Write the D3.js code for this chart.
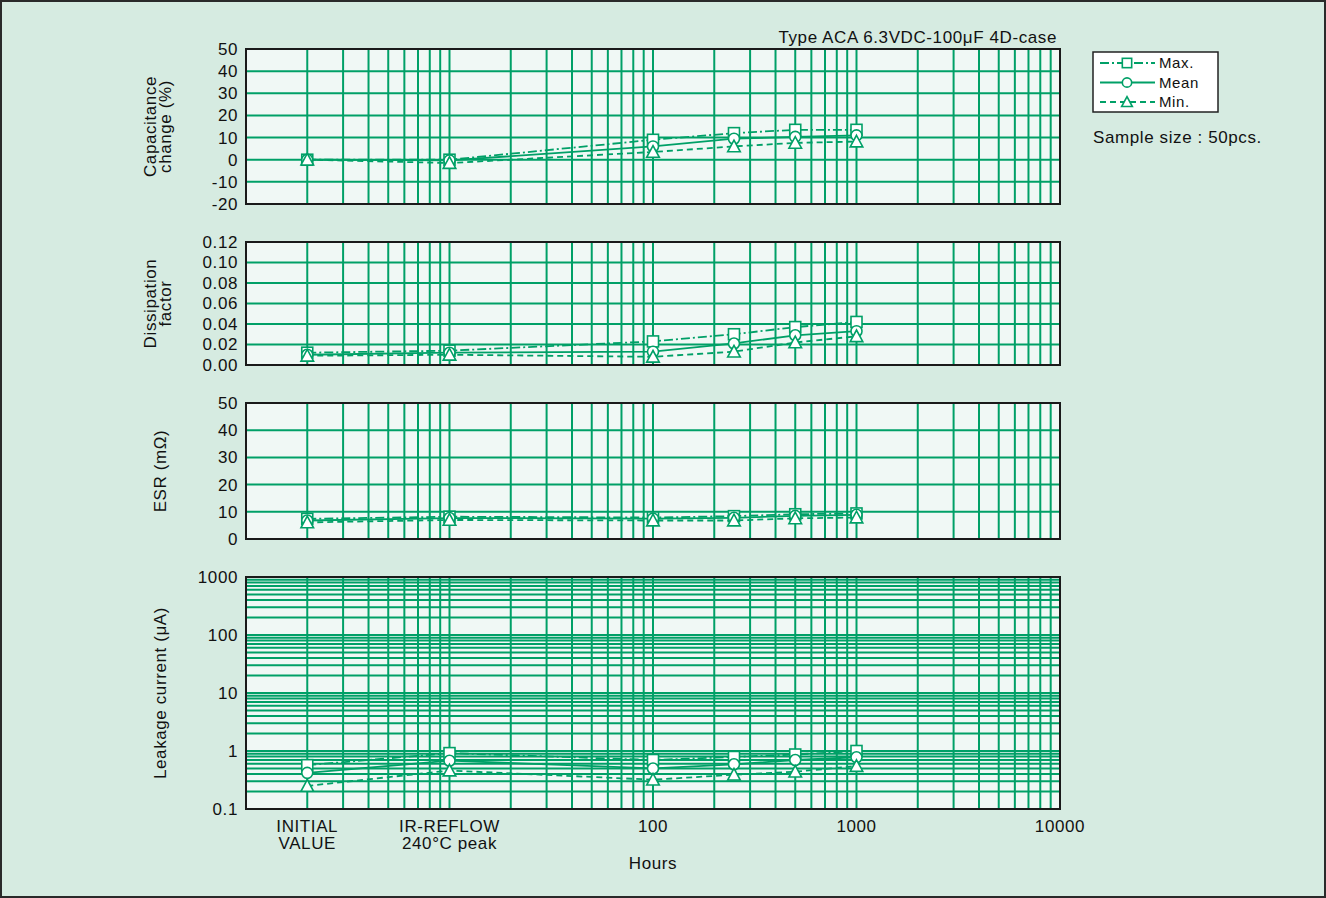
<!DOCTYPE html>
<html>
<head>
<meta charset="utf-8">
<script src="https://cdn.jsdelivr.net/npm/d3@7"></script>
<style>
  html, body { margin: 0; padding: 0; background: #d6ebe1; }
  svg { display: block; font-family: "Liberation Sans", Arial, Helvetica, sans-serif; }
  text { letter-spacing: 0.6px; }
</style>
</head>
<body>
<svg id="chart" width="1326" height="898"></svg>
<script>
// Test points on the hours axis (the first two are the pre-test stages)
const hours = [2, 10, 100, 250, 500, 1000];
const xTickValues = [2, 10, 100, 1000, 10000];
const xTickLabels = [["INITIAL", "VALUE"], ["IR-REFLOW", "240°C peak"], ["100"], ["1000"], ["10000"]];

// Capacitance change (%)
const capMax  = [0, 0, 9, 12, 13.5, 13.5];
const capMean = [0, -0.3, 6, 9.5, 10.3, 11];
const capMin  = [0, -1.5, 3.5, 6, 7.6, 8.2];

// Dissipation factor
const dfMax  = [0.012, 0.014, 0.023, 0.030, 0.037, 0.042];
const dfMean = [0.010, 0.012, 0.013, 0.021, 0.029, 0.033];
const dfMin  = [0.009, 0.010, 0.008, 0.013, 0.022, 0.028];

// ESR (mΩ)
const esrMax  = [7.4, 8.2, 7.9, 8.4, 9.1, 9.4];
const esrMean = [6.8, 7.7, 7.5, 7.8, 8.5, 8.9];
const esrMin  = [6.1, 7.0, 6.8, 6.8, 7.6, 7.9];

// Leakage current (μA)
const lcMax  = [0.57, 0.92, 0.70, 0.79, 0.87, 1.0];
const lcMean = [0.42, 0.68, 0.50, 0.59, 0.70, 0.78];
const lcMin  = [0.25, 0.46, 0.32, 0.39, 0.44, 0.55];

const capTicks = [50, 40, 30, 20, 10, 0, -10, -20];
const dfTicks = [0.12, 0.10, 0.08, 0.06, 0.04, 0.02, 0.00];
const esrTicks = [50, 40, 30, 20, 10, 0];
const lcTicks = [1000, 100, 10, 1, 0.1];

const GREEN = "#00a067";
const svg = d3.select("#chart");

// page background and frame
svg.append("rect").attr("x", 1).attr("y", 1).attr("width", 1324).attr("height", 896)
  .attr("fill", "#d6ebe1").attr("stroke", "#2a2a2a").attr("stroke-width", 2);

const x = d3.scaleLog().domain([1, 10000]).range([246, 1060]);

// x grid values: 1..9 of each decade
const xGrid = [];
for (let d = 1; d <= 1000; d *= 10) for (let k = 1; k <= 9; k++) xGrid.push(k * d);

const hyphenInt = d => String(Math.round(d)).replace("\u2212", "-");

const panels = [
  { title: ["Capacitance", "change (%)"], titleX: 158, top: 49, bottom: 204,
    y: d3.scaleLinear().domain([-20, 50]), ticks: capTicks, fmt: hyphenInt,
    series: [capMax, capMean, capMin] },
  { title: ["Dissipation", "factor"], titleX: 158, top: 242, bottom: 365,
    y: d3.scaleLinear().domain([0, 0.12]), ticks: dfTicks, fmt: d3.format(".2f"),
    series: [dfMax, dfMean, dfMin] },
  { title: ["ESR (mΩ)"], titleX: 160, top: 403, bottom: 539,
    y: d3.scaleLinear().domain([0, 50]), ticks: esrTicks, fmt: hyphenInt,
    series: [esrMax, esrMean, esrMin] },
  { title: ["Leakage current (μA)"], titleX: 160, top: 577, bottom: 809,
    y: d3.scaleLog().domain([0.1, 1000]), ticks: lcTicks, fmt: d => String(d),
    series: [lcMax, lcMean, lcMin], log: true }
];

const styles = [
  { dash: "9,3,2,3", marker: "square" },
  { dash: null, marker: "circle" },
  { dash: "6,4", marker: "triangle" }
];

function drawMarker(g, type, cx, cy, k = 1) {
  if (type === "square") {
    const h = 5.5 * k;
    g.append("rect").attr("x", cx - h).attr("y", cy - h).attr("width", 2 * h).attr("height", 2 * h)
      .attr("fill", "#ffffff").attr("stroke", GREEN).attr("stroke-width", 1.6);
  } else if (type === "circle") {
    g.append("circle").attr("cx", cx).attr("cy", cy).attr("r", 5.5 * k)
      .attr("fill", "#ffffff").attr("stroke", GREEN).attr("stroke-width", 1.6);
  } else {
    const s = 6.3 * k;
    g.append("path").attr("d", `M${cx},${cy - s}L${cx + s},${cy + s * 0.85}L${cx - s},${cy + s * 0.85}Z`)
      .attr("fill", "#ffffff").attr("stroke", GREEN).attr("stroke-width", 1.6);
  }
}

panels.forEach(p => {
  const y = p.y.range([p.bottom, p.top]);
  const g = svg.append("g");

  g.append("rect").attr("x", 246).attr("y", p.top).attr("width", 814).attr("height", p.bottom - p.top)
    .attr("fill", "#f0f8f5");

  // vertical grid
  g.append("g").selectAll("line").data(xGrid.filter(v => v > 1 && v < 10000)).join("line")
    .attr("x1", d => x(d)).attr("x2", d => x(d))
    .attr("y1", p.top).attr("y2", p.bottom)
    .attr("stroke", GREEN).attr("stroke-width", 2);

  // horizontal grid
  let yGrid;
  if (p.log) {
    yGrid = [];
    for (let d = 0.1; d < 1000; d *= 10) for (let k = 1; k <= 9; k++) yGrid.push(+(k * d).toPrecision(3));
    yGrid = yGrid.filter(v => v > 0.1 && v < 1000);
  } else {
    yGrid = p.ticks.slice(1, -1);
  }
  g.append("g").selectAll("line").data(yGrid).join("line")
    .attr("x1", 246).attr("x2", 1060)
    .attr("y1", d => y(d)).attr("y2", d => y(d))
    .attr("stroke", GREEN).attr("stroke-width", 2);

  // y tick labels
  const axis = d3.axisLeft(y).tickValues(p.ticks).tickFormat(p.fmt).tickSize(0).tickPadding(8);
  const ag = g.append("g").attr("transform", "translate(246,0)").call(axis);
  ag.select(".domain").remove();
  ag.selectAll("text").attr("font-size", 17).attr("fill", "#111")
    .attr("font-family", "'Liberation Sans', Arial, sans-serif");

  // axis title
  const t = g.append("text").attr("transform", `translate(${p.titleX},${(p.top + p.bottom) / 2}) rotate(-90)`)
    .attr("text-anchor", "middle").attr("font-size", 17).attr("fill", "#111");
  p.title.forEach((line, i) => {
    t.append("tspan").attr("x", 0).attr("dy", i === 0 ? (p.title.length > 1 ? -2 : 6) : 15).text(line);
  });

  // series
  p.series.forEach((vals, si) => {
    const pts = vals.map((v, i) => [x(hours[i]), y(v)]);
    g.append("path").attr("d", d3.line()(pts)).attr("fill", "none")
      .attr("stroke", GREEN).attr("stroke-width", 1.8)
      .attr("stroke-dasharray", styles[si].dash);
  });
  p.series.forEach((vals, si) => {
    vals.forEach((v, i) => drawMarker(g, styles[si].marker, x(hours[i]), y(v)));
  });

  // frame
  g.append("rect").attr("x", 246).attr("y", p.top).attr("width", 814).attr("height", p.bottom - p.top)
    .attr("fill", "none").attr("stroke", "#1a1a1a").attr("stroke-width", 2);
});

// x tick labels (bottom panel)
const xg = svg.append("g");
xTickValues.forEach((v, i) => {
  const t = xg.append("text").attr("x", x(v)).attr("y", 832).attr("text-anchor", "middle")
    .attr("font-size", 17).attr("fill", "#111");
  xTickLabels[i].forEach((line, j) => t.append("tspan").attr("x", x(v)).attr("dy", j === 0 ? 0 : 17).text(line));
});
svg.append("text").attr("x", x(100)).attr("y", 869).attr("text-anchor", "middle")
  .attr("font-size", 17).attr("fill", "#111").text("Hours");

// header
svg.append("text").attr("x", 1057).attr("y", 43).attr("text-anchor", "end")
  .attr("font-size", 17).attr("letter-spacing", "0.9px").attr("fill", "#111")
  .text("Type ACA 6.3VDC-100μF 4D-case");

// legend
const lg = svg.append("g");
lg.append("rect").attr("x", 1093).attr("y", 52).attr("width", 125).attr("height", 60)
  .attr("fill", "#ffffff").attr("stroke", "#222").attr("stroke-width", 1.5);
const legendNames = ["Max.", "Mean", "Min."];
legendNames.forEach((name, i) => {
  const ly = 63 + i * 19.5;
  lg.append("line").attr("x1", 1100).attr("x2", 1155).attr("y1", ly).attr("y2", ly)
    .attr("stroke", GREEN).attr("stroke-width", 1.8).attr("stroke-dasharray", styles[i].dash);
  drawMarker(lg, styles[i].marker, 1127, ly, 0.85);
  lg.append("text").attr("x", 1159).attr("y", ly + 5).attr("font-size", 15).attr("fill", "#111").text(name);
});
svg.append("text").attr("x", 1093).attr("y", 143).attr("font-size", 17).attr("letter-spacing", "0.7px")
  .attr("fill", "#111").text("Sample size : 50pcs.");
</script>
</body>
</html>
